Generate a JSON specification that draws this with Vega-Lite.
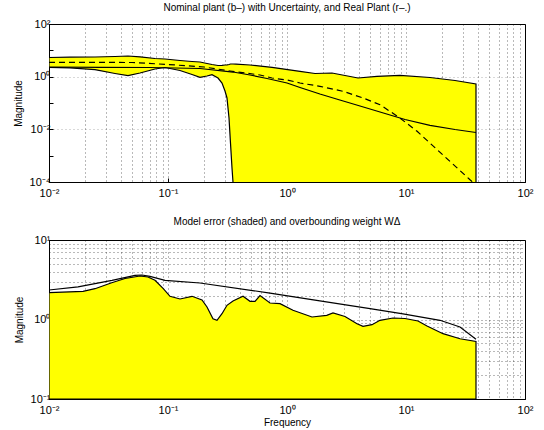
{
  "$schema": "https://vega.github.io/schema/vega-lite/v6.json",
  "background": "white",
  "padding": {"left": 12, "top": 2, "right": 0, "bottom": 0},
  "spacing": 58,
  "bounds": "flush",
  "config": {
    "font": "Liberation Sans",
    "view": {"stroke": "#000", "strokeWidth": 1},
    "axis": {
      "labelFont": "Liberation Sans", "labelFontSize": 11, "labelColor": "#000",
      "titleFont": "Liberation Sans", "titleFontSize": 10, "titleFontWeight": "normal", "titleColor": "#000",
      "domainColor": "#000", "tickColor": "#000",
      "gridColor": "#000", "gridDash": [1, 3], "gridOpacity": 0.55, "gridWidth": 1,
      "labelFlush": false, "labelOverlap": false
    },
    "title": {"font": "Liberation Sans", "fontSize": 10, "fontWeight": "normal", "color": "#000"}
  },
  "datasets": {
    "band": [
      {"f": 0.01, "v": 5.34, "lo": 2.27},
      {"f": 0.01501, "v": 5.48, "lo": 2.17},
      {"f": 0.02435, "v": 5.58, "lo": 1.84},
      {"f": 0.03586, "v": 5.83, "lo": 1.32},
      {"f": 0.04612, "v": 6.09, "lo": 1.09},
      {"f": 0.05816, "v": 5.68, "lo": 1.38},
      {"f": 0.07776, "v": 4.89, "lo": 1.95},
      {"f": 0.09436, "v": 4.69, "lo": 2.23},
      {"f": 0.1261, "v": 4.11, "lo": 1.71},
      {"f": 0.1591, "v": 3.77, "lo": 1.21},
      {"f": 0.1857, "v": 3.61, "lo": 0.946},
      {"f": 0.2127, "v": 3.16, "lo": 1.06},
      {"f": 0.2343, "v": 2.9, "lo": 1.19},
      {"f": 0.2632, "v": 2.65, "lo": 0.889},
      {"f": 0.2843, "v": 2.7, "lo": 0.574},
      {"f": 0.3013, "v": 2.77, "lo": 0.285},
      {"f": 0.3131, "v": 2.82, "lo": 0.155},
      {"f": 0.3256, "v": 2.9, "lo": 0.0269},
      {"f": 0.3351, "v": 3.03, "lo": 0.003},
      {"f": 0.345, "v": 3.03, "lo": 0.00034},
      {"f": 0.3517, "v": 3.03, "lo": 0.0001},
      {"f": 0.3727, "v": 2.97, "lo": 0.00001},
      {"f": 0.4888, "v": 2.77, "lo": 0.00001},
      {"f": 0.7482, "v": 2.27, "lo": 0.00001},
      {"f": 1.286, "v": 1.6, "lo": 0.00001},
      {"f": 1.719, "v": 1.32, "lo": 0.00001},
      {"f": 2.388, "v": 1.38, "lo": 0.00001},
      {"f": 3.072, "v": 1.11, "lo": 0.00001},
      {"f": 3.951, "v": 0.889, "lo": 0.00001},
      {"f": 5.705, "v": 1.03, "lo": 0.00001},
      {"f": 8.905, "v": 1.11, "lo": 0.00001},
      {"f": 15.91, "v": 0.929, "lo": 0.00001},
      {"f": 25.81, "v": 0.715, "lo": 0.00001},
      {"f": 38.74, "v": 0.526, "lo": 0.00001}
    ],
    "nominal": [
      {"f": 0.01, "v": 2.33},
      {"f": 0.02683, "v": 2.27},
      {"f": 0.07058, "v": 2.23},
      {"f": 0.1857, "v": 2.04},
      {"f": 0.3517, "v": 1.5},
      {"f": 0.4888, "v": 1.16},
      {"f": 0.6793, "v": 0.851},
      {"f": 1.0, "v": 0.574},
      {"f": 1.286, "v": 0.387},
      {"f": 1.89, "v": 0.219},
      {"f": 2.735, "v": 0.133},
      {"f": 4.106, "v": 0.0769},
      {"f": 6.05, "v": 0.0455},
      {"f": 9.81, "v": 0.0236},
      {"f": 15.91, "v": 0.0142},
      {"f": 25.81, "v": 0.00984},
      {"f": 38.74, "v": 0.00757}
    ],
    "real": [
      {"f": 0.01, "v": 3.51},
      {"f": 0.04983, "v": 3.45},
      {"f": 0.1, "v": 2.9},
      {"f": 0.2007, "v": 2.33},
      {"f": 0.3319, "v": 1.64},
      {"f": 0.593, "v": 1.16},
      {"f": 0.7482, "v": 0.889},
      {"f": 1.0, "v": 0.746},
      {"f": 1.286, "v": 0.574},
      {"f": 1.89, "v": 0.43},
      {"f": 2.96, "v": 0.278},
      {"f": 4.35, "v": 0.155},
      {"f": 6.05, "v": 0.0861},
      {"f": 8.9, "v": 0.0269},
      {"f": 12.4, "v": 0.00841},
      {"f": 15.3, "v": 0.00351},
      {"f": 23.43, "v": 0.000603},
      {"f": 34.5, "v": 0.000122},
      {"f": 38.74, "v": 0.0000776}
    ],
    "err": [
      {"f": 0.01, "v": 2.174},
      {"f": 0.01931, "v": 2.263},
      {"f": 0.02435, "v": 2.44},
      {"f": 0.03364, "v": 2.903},
      {"f": 0.04352, "v": 3.28},
      {"f": 0.05816, "v": 3.526},
      {"f": 0.0679, "v": 3.424},
      {"f": 0.07776, "v": 3.112},
      {"f": 0.09131, "v": 2.44},
      {"f": 0.1039, "v": 1.958},
      {"f": 0.1261, "v": 1.811},
      {"f": 0.1591, "v": 1.958},
      {"f": 0.1931, "v": 1.759},
      {"f": 0.2127, "v": 1.436},
      {"f": 0.2388, "v": 1.023},
      {"f": 0.2581, "v": 0.977},
      {"f": 0.2843, "v": 1.183},
      {"f": 0.3131, "v": 1.509},
      {"f": 0.3517, "v": 1.709},
      {"f": 0.427, "v": 1.958},
      {"f": 0.4888, "v": 1.694},
      {"f": 0.5384, "v": 1.694},
      {"f": 0.593, "v": 2.004},
      {"f": 0.7196, "v": 1.613},
      {"f": 0.8733, "v": 1.58},
      {"f": 1.123, "v": 1.305},
      {"f": 1.622, "v": 1.075},
      {"f": 2.157, "v": 1.129},
      {"f": 2.436, "v": 1.207},
      {"f": 3.072, "v": 1.091},
      {"f": 3.875, "v": 0.886},
      {"f": 4.352, "v": 0.821},
      {"f": 5.179, "v": 0.86},
      {"f": 6.045, "v": 0.977},
      {"f": 7.779, "v": 1.044},
      {"f": 9.809, "v": 1.029},
      {"f": 12.62, "v": 0.957},
      {"f": 15.02, "v": 0.828},
      {"f": 20.46, "v": 0.663},
      {"f": 28.43, "v": 0.573},
      {"f": 38.74, "v": 0.529}
    ],
    "weight": [
      {"f": 0.01, "v": 2.35},
      {"f": 0.01753, "v": 2.57},
      {"f": 0.03383, "v": 3.1},
      {"f": 0.05281, "v": 3.58},
      {"f": 0.06045, "v": 3.63},
      {"f": 0.07058, "v": 3.48},
      {"f": 0.09436, "v": 3.1},
      {"f": 0.1857, "v": 2.88},
      {"f": 0.7196, "v": 2.15},
      {"f": 1.719, "v": 1.75},
      {"f": 4.984, "v": 1.37},
      {"f": 9.437, "v": 1.18},
      {"f": 19.31, "v": 0.977},
      {"f": 28.43, "v": 0.805},
      {"f": 38.74, "v": 0.564}
    ]
  },
  "vconcat": [
    {
      "width": 476,
      "height": 158,
      "title": {"text": "Nominal plant (b–) with Uncertainty, and Real Plant (r–.)", "offset": 5},
      "encoding": {
        "x": {
          "field": "f", "type": "quantitative",
          "scale": {"type": "log", "domain": [0.01, 100]},
          "axis": {
            "title": null,
            "values": [0.01,0.02,0.03,0.04,0.05,0.06,0.07,0.08,0.09,0.1,0.2,0.3,0.4,0.5,0.6,0.7,0.8,0.9,1,2,3,4,5,6,7,8,9,10,20,30,40,50,60,70,80,90,100],
            "labelExpr": "datum.value==0.01 ? '10⁻²' : datum.value==0.1 ? '10⁻¹' : datum.value==1 ? '10⁰' : datum.value==10 ? '10¹' : datum.value==100 ? '10²' : ''",
            "tickSize": -4,
            "tickOpacity": {"condition": {"test": "datum.value==0.01||datum.value==0.1||datum.value==1||datum.value==10||datum.value==100", "value": 1}, "value": 0},
            "labelPadding": 9
          }
        },
        "y": {
          "field": "v", "type": "quantitative",
          "scale": {"type": "log", "domain": [0.0001, 100]},
          "axis": {
            "title": "Magnitude",
            "values": [0.0001, 0.001, 0.01, 0.1, 1, 10, 100],
            "labelExpr": "datum.value==0.0001 ? '10⁻⁴' : datum.value==0.01 ? '10⁻²' : datum.value==1 ? '10⁰' : datum.value==100 ? '10²' : ''",
            "gridOpacity": {"condition": {"test": "datum.value==0.01||datum.value==1", "value": 0.55}, "value": 0},
            "tickSize": -4,
            "labelPadding": 3,
            "titlePadding": 6
          }
        }
      },
      "layer": [
        {
          "data": {"name": "band"},
          "mark": {"type": "area", "fill": "#ffff00", "stroke": "#000", "strokeWidth": 1.2, "clip": true},
          "encoding": {"y2": {"field": "lo"}}
        },
        {
          "data": {"name": "nominal"},
          "mark": {"type": "line", "color": "#000", "strokeWidth": 1.2, "clip": true},
          "encoding": {}
        },
        {
          "data": {"name": "real"},
          "mark": {"type": "line", "color": "#000", "strokeWidth": 1.2, "strokeDash": [6, 4], "clip": true},
          "encoding": {}
        }
      ]
    },
    {
      "width": 476,
      "height": 159,
      "title": {"text": "Model error (shaded) and overbounding weight WΔ", "offset": 7},
      "encoding": {
        "x": {
          "field": "f", "type": "quantitative",
          "scale": {"type": "log", "domain": [0.01, 100]},
          "axis": {
            "title": "Frequency",
            "values": [0.01,0.02,0.03,0.04,0.05,0.06,0.07,0.08,0.09,0.1,0.2,0.3,0.4,0.5,0.6,0.7,0.8,0.9,1,2,3,4,5,6,7,8,9,10,20,30,40,50,60,70,80,90,100],
            "labelExpr": "datum.value==0.01 ? '10⁻²' : datum.value==0.1 ? '10⁻¹' : datum.value==1 ? '10⁰' : datum.value==10 ? '10¹' : datum.value==100 ? '10²' : ''",
            "tickSize": -4,
            "tickOpacity": {"condition": {"test": "datum.value==0.01||datum.value==0.1||datum.value==1||datum.value==10||datum.value==100", "value": 1}, "value": 0},
            "labelPadding": 9,
            "titlePadding": 2
          }
        },
        "y": {
          "field": "v", "type": "quantitative",
          "scale": {"type": "log", "domain": [0.1, 10]},
          "axis": {
            "title": "Magnitude",
            "values": [0.1,0.2,0.3,0.4,0.5,0.6,0.7,0.8,0.9,1,2,3,4,5,6,7,8,9,10],
            "labelExpr": "datum.value==0.1 ? '10⁻¹' : datum.value==1 ? '10⁰' : datum.value==10 ? '10¹' : ''",
            "tickOpacity": {"condition": {"test": "datum.value==0.1||datum.value==1||datum.value==10", "value": 1}, "value": 0},
            "tickSize": -4,
            "labelPadding": 3,
            "titlePadding": 6
          }
        }
      },
      "layer": [
        {
          "data": {"name": "err"},
          "mark": {"type": "area", "fill": "#ffff00", "stroke": "#000", "strokeWidth": 1.2, "clip": true},
          "encoding": {"y2": {"datum": 0.1}}
        },
        {
          "data": {"name": "weight"},
          "mark": {"type": "line", "color": "#000", "strokeWidth": 1.2, "clip": true},
          "encoding": {}
        }
      ]
    }
  ]
}
